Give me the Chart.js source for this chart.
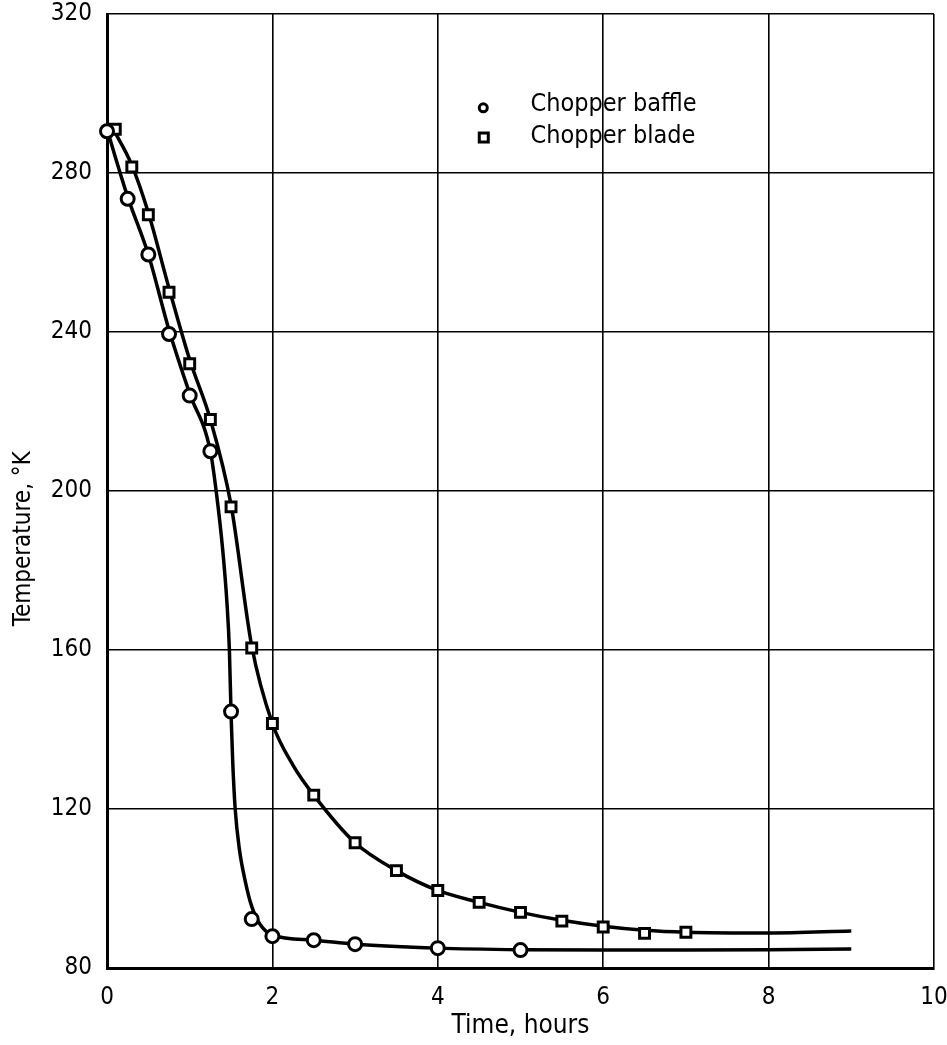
<!DOCTYPE html>
<html>
<head>
<meta charset="utf-8">
<script src="https://cdn.jsdelivr.net/npm/chart.js@4.4.0/dist/chart.umd.min.js"></script>
<style>
  html, body { margin: 0; padding: 0; background: #fff; }
  #wrap { width: 947px; height: 1045px; position: relative; }
</style>
</head>
<body>
<div id="wrap"><canvas id="tempChart"></canvas></div>
<script>
// measured points
const baffleHours = [0, 0.25, 0.5, 0.75, 1.0, 1.25, 1.5, 1.75, 2.0, 2.5, 3.0, 4.0, 5.0];
const baffleTemps = [290.5, 273.5, 259.5, 239.5, 224, 210, 144.5, 92.3, 88, 87, 86, 85, 84.5];
const bladeHours = [0.1, 0.3, 0.5, 0.75, 1.0, 1.25, 1.5, 1.75, 2.0, 2.5, 3.0, 3.5, 4.0, 4.5, 5.0, 5.5, 6.0, 6.5, 7.0];
const bladeTemps = [291, 281.5, 269.5, 250, 232, 218, 196, 160.5, 141.5, 123.5, 111.5, 104.5, 99.5, 96.5, 94, 91.8, 90.3, 88.7, 89];

// faired curves
const baffleCurveHours = [0, 0.25, 0.5, 0.75, 1.0, 1.25, 1.32, 1.4, 1.45, 1.48, 1.5, 1.52, 1.55, 1.6, 1.67, 1.75, 1.85, 2.0, 2.5, 3.0, 4.0, 5.0, 6.0, 7.0, 8.0, 9.0];
const baffleCurveTemps = [291, 274, 259.5, 240.5, 224.5, 210, 200, 185, 172, 160, 144, 132, 120, 110, 102, 95.5, 91, 88.3, 87, 86, 85, 84.6, 84.5, 84.5, 84.6, 84.8];
const bladeCurveHours = [0.05, 0.3, 0.5, 0.75, 1.0, 1.25, 1.5, 1.75, 2.0, 2.25, 2.5, 3.0, 3.5, 4.0, 4.5, 5.0, 5.5, 6.0, 6.5, 7.0, 8.0, 9.0];
const bladeCurveTemps = [292, 282, 270, 251, 233, 218, 196.5, 161, 141.5, 131, 123.5, 111.5, 104.5, 99.5, 96.5, 94, 92, 90.5, 89.5, 89, 88.8, 89.3];

const xTicks = [0, 2, 4, 6, 8, 10];
const yTicks = [80, 120, 160, 200, 240, 280, 320];

const seriesNames = ['Chopper baffle', 'Chopper blade'];
const xTitle = 'Time, hours';
const yTitle = 'Temperature, °K';

const FONT = '"DejaVu Sans Condensed", "DejaVu Sans", sans-serif';

function toXY(xs, ys) {
  return xs.map((x, i) => ({ x: x, y: ys[i] }));
}

// legend inside the plot + y title (sits a bit below the axis middle in the original)
const extras = {
  id: 'extras',
  afterDraw(chart) {
    const { ctx, scales: { x, y } } = chart;
    ctx.save();
    ctx.fillStyle = '#000';
    ctx.strokeStyle = '#000';
    ctx.lineWidth = 3;
    ctx.font = '25px ' + FONT;
    ctx.textBaseline = 'middle';
    ctx.textAlign = 'left';

    const mx = x.getPixelForValue(4.55);
    const tx = x.getPixelForValue(5.12);
    const y1 = y.getPixelForValue(296.4);
    const y2 = y.getPixelForValue(288.8);

    ctx.beginPath();
    ctx.arc(mx, y1, 4, 0, Math.PI * 2);
    ctx.stroke();
    ctx.strokeRect(mx - 4, y2 - 5, 9, 9);

    ctx.fillText(seriesNames[0], tx, y1 - 3);
    ctx.fillText(seriesNames[1], tx, y2 - 2);

    // y axis title
    ctx.translate(24, y.getPixelForValue(188));
    ctx.rotate(-Math.PI / 2);
    ctx.textAlign = 'center';
    ctx.font = '24px ' + FONT;
    ctx.fillText(yTitle, 0, 0);
    ctx.restore();
  }
};

new Chart(document.getElementById('tempChart'), {
  type: 'scatter',
  data: {
    datasets: [
      {
        label: seriesNames[0] + ' curve',
        data: toXY(baffleCurveHours, baffleCurveTemps),
        showLine: true,
        borderColor: '#000',
        borderWidth: 3.5,
        pointRadius: 0,
        cubicInterpolationMode: 'monotone',
        order: 3
      },
      {
        label: seriesNames[1] + ' curve',
        data: toXY(bladeCurveHours, bladeCurveTemps),
        showLine: true,
        borderColor: '#000',
        borderWidth: 3.5,
        pointRadius: 0,
        cubicInterpolationMode: 'monotone',
        order: 4
      },
      {
        label: seriesNames[0],
        data: toXY(baffleHours, baffleTemps),
        pointStyle: 'circle',
        pointRadius: 6.5,
        pointBorderWidth: 3,
        pointBorderColor: '#000',
        pointBackgroundColor: '#fff',
        clip: false,
        order: 1
      },
      {
        label: seriesNames[1],
        data: toXY(bladeHours, bladeTemps),
        pointStyle: 'rect',
        pointRadius: 7,
        pointBorderWidth: 3,
        pointBorderColor: '#000',
        pointBackgroundColor: '#fff',
        clip: false,
        order: 2
      }
    ]
  },
  options: {
    responsive: true,
    maintainAspectRatio: false,
    animation: false,
    layout: { padding: 0 },
    plugins: {
      legend: { display: false },
      tooltip: { enabled: false }
    },
    scales: {
      x: {
        type: 'linear',
        min: 0,
        max: 10,
        afterBuildTicks: (scale) => { scale.ticks = xTicks.map(v => ({ value: v })); },
        afterFit: (scale) => {
          scale.height = 77;
          scale.paddingRight = 13;
          scale.paddingLeft = 0;
        },
        ticks: {
          color: '#000',
          font: { family: FONT, size: 24 },
          padding: 15
        },
        grid: { color: '#000', lineWidth: 1.6, drawTicks: false },
        border: { display: true, color: '#000', width: 3 },
        title: {
          display: true,
          text: xTitle,
          color: '#000',
          font: { family: FONT, size: 26 },
          padding: { top: 0, bottom: 3 }
        }
      },
      y: {
        type: 'linear',
        min: 80,
        max: 320,
        afterBuildTicks: (scale) => { scale.ticks = yTicks.map(v => ({ value: v })); },
        afterFit: (scale) => {
          scale.width = 107;
          scale.paddingTop = 14;
          scale.paddingBottom = 0;
        },
        ticks: {
          color: '#000',
          font: { family: FONT, size: 24 },
          padding: 15
        },
        grid: { color: '#000', lineWidth: 1.6, drawTicks: false },
        border: { display: true, color: '#000', width: 3 }
      }
    }
  },
  plugins: [extras]
});
</script>
</body>
</html>
